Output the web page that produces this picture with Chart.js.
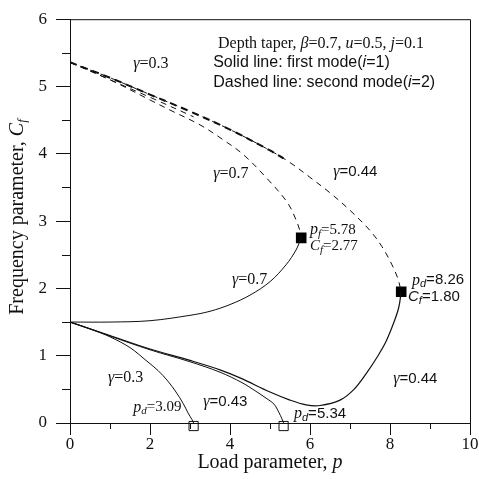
<!DOCTYPE html>
<html>
<head>
<meta charset="utf-8">
<script src="https://cdn.jsdelivr.net/npm/chart.js@4.4.0/dist/chart.umd.min.js"></script>
<style>
  html, body { margin: 0; padding: 0; background: #fff; }
  #wrap { width: 479px; height: 479px; }
</style>
</head>
<body>
<div id="wrap"><canvas id="grafico"></canvas></div>
<script>
// Ejes
const xTicks = [0, 2, 4, 6, 8, 10];
const yTicks = [0, 1, 2, 3, 4, 5, 6];

// Primer modo (linea continua)
const pModo1G03 = [0, 0.5, 1, 1.5, 1.9, 2.2, 2.45, 2.65, 2.83, 2.95, 3.05, 3.09];
const cModo1G03 = [1.5, 1.4, 1.28, 1.12, 0.93, 0.78, 0.62, 0.46, 0.29, 0.15, 0.05, 0];
const pModo1G043 = [0, 1, 2, 3, 3.75, 4.3, 4.6, 4.9, 5.1, 5.22, 5.3, 5.34];
const cModo1G043 = [1.5, 1.292, 1.088, 0.91, 0.755, 0.6, 0.49, 0.37, 0.28, 0.16, 0.06, 0];
const pModo1G044 = [0, 1, 2, 3, 3.75, 4.25, 5, 5.5, 5.9, 6.25, 6.75, 7.1, 7.4, 7.7, 7.9, 8.1, 8.22, 8.28];
const cModo1G044 = [1.5, 1.3, 1.1, 0.93, 0.79, 0.67, 0.46, 0.34, 0.27, 0.26, 0.34, 0.5, 0.73, 1.0, 1.21, 1.5, 1.72, 1.95];
const pModo1G07 = [0, 1, 2, 3, 3.5, 4, 4.5, 5, 5.4, 5.65, 5.78];
const cModo1G07 = [1.5, 1.5, 1.52, 1.6, 1.66, 1.76, 1.9, 2.1, 2.35, 2.57, 2.75];

// Segundo modo (linea discontinua)
const pModo2G03 = [0, 1, 2, 3.09];
const cModo2G03 = [5.36, 5.1, 4.84, 4.55];
const pModo2G043 = [0, 1, 2, 3, 4, 5, 5.34];
const cModo2G043 = [5.36, 5.13, 4.88, 4.63, 4.36, 4.05, 3.93];
const pModo2G044 = [0, 1, 2, 3, 4, 5, 5.5, 6, 6.5, 7, 7.5, 7.8, 8.05, 8.2, 8.28];
const cModo2G044 = [5.36, 5.13, 4.88, 4.63, 4.36, 4.05, 3.87, 3.65, 3.42, 3.16, 2.86, 2.62, 2.35, 2.14, 1.95];
const pModo2G07 = [0, 1, 2, 2.5, 3.25, 3.8, 4.33, 4.93, 5.43, 5.65, 5.75, 5.78];
const cModo2G07 = [5.36, 5.1, 4.8, 4.65, 4.43, 4.22, 3.99, 3.63, 3.28, 3.02, 2.85, 2.75];

// Puntos de flameo (llenos) y divergencia (vacios)
const pFlameo = [5.78, 8.28];
const cFlameo = [2.75, 1.95];
const pDiverg = [3.09, 5.34];
const cDiverg = [-0.045, -0.045];

function puntos(p, c) {
    return p.map((v, i) => ({ x: v, y: c[i] }));
}

function linea(p, c, dash, ancho) {
    return {
        data: puntos(p, c),
        showLine: true,
        borderColor: '#111',
        borderWidth: ancho || 1,
        borderDash: dash ? (ancho > 1 ? [7, 5] : [6, 5]) : [],
        pointRadius: 0,
        tension: 0.35,
        fill: false
    };
}

const SERIF = '"Liberation Serif", "Times New Roman", serif';
const SANS = '"Liberation Sans", Arial, sans-serif';

// Textos: [p, C, tramos]; cada tramo = [texto, fuente, desplazamiento vertical]
function gamma(resto, sans) {
    return [['γ', 'italic 16px ' + SERIF, 0], [resto, sans ? '15px ' + SANS : '16px ' + SERIF, 0]];
}
const textos = [
    [3.7, 5.63, [['Depth taper, ', '16px ' + SERIF, 0], ['β', 'italic 16px ' + SERIF, 0], ['=0.7, ', '16px ' + SERIF, 0],
        ['u', 'italic 16px ' + SERIF, 0], ['=0.5, ', '16px ' + SERIF, 0], ['j', 'italic 16px ' + SERIF, 0], ['=0.1', '16px ' + SERIF, 0]]],
    [3.58, 5.35, [['Solid line: first mode(', '16px ' + SANS, 0], ['i', 'italic 16px ' + SANS, 0], ['=1)', '16px ' + SANS, 0]]],
    [3.58, 5.06, [['Dashed line: second mode(', '16px ' + SANS, 0], ['i', 'italic 16px ' + SANS, 0], ['=2)', '16px ' + SANS, 0]]],
    [1.58, 5.34, gamma('=0.3', false)],
    [3.58, 3.70, gamma('=0.7', false)],
    [6.58, 3.73, gamma('=0.44', true)],
    [6.0, 2.87, [['p', 'italic 16px ' + SERIF, 0], ['f', 'italic 11px ' + SERIF, 4], ['=5.78', '15px ' + SERIF, 0]]],
    [6.0, 2.63, [['C', 'italic 15px ' + SERIF, 0], ['f', 'italic 11px ' + SERIF, 4], ['=2.77', '15px ' + SERIF, 0]]],
    [4.05, 2.13, gamma('=0.7', false)],
    [8.55, 2.12, [['p', 'italic 16px ' + SERIF, 0], ['d', 'italic 11px ' + SANS, 4], ['=8.26', '15px ' + SANS, 0]]],
    [8.45, 1.87, [['C', 'italic 15px ' + SANS, 0], ['f', 'italic 11px ' + SANS, 4], ['=1.80', '15px ' + SANS, 0]]],
    [8.08, 0.66, gamma('=0.44', true)],
    [0.95, 0.67, gamma('=0.3', false)],
    [3.33, 0.32, gamma('=0.43', true)],
    [1.58, 0.23, [['p', 'italic 16px ' + SERIF, 0], ['d', 'italic 11px ' + SERIF, 4], ['=3.09', '15px ' + SERIF, 0]]],
    [5.6, 0.13, [['p', 'italic 16px ' + SERIF, 0], ['d', 'italic 11px ' + SANS, 4], ['=5.34', '15px ' + SANS, 0]]]
];

function dibujarTramos(ctx, x, y, tramos, centrar) {
    let ancho = 0;
    tramos.forEach(t => { ctx.font = t[1]; ancho += ctx.measureText(t[0]).width; });
    let cx = centrar ? x - ancho / 2 : x;
    tramos.forEach(t => {
        ctx.font = t[1];
        ctx.fillText(t[0], cx, y + t[2]);
        cx += ctx.measureText(t[0]).width;
    });
}

const pluginMarco = {
    id: 'marco',
    afterDraw(chart) {
        const ctx = chart.ctx;
        const a = chart.chartArea;
        const sx = chart.scales.x, sy = chart.scales.y;
        ctx.save();
        ctx.strokeStyle = '#111';
        ctx.lineWidth = 1;
        // marco superior y derecho
        ctx.beginPath();
        ctx.moveTo(a.left, a.top + 0.5);
        ctx.lineTo(a.right + 0.5, a.top + 0.5);
        ctx.lineTo(a.right + 0.5, a.bottom);
        ctx.stroke();
        // marcas menores
        ctx.beginPath();
        for (let v = 1; v < 10; v += 2) {
            const px = Math.round(sx.getPixelForValue(v)) + 0.5;
            ctx.moveTo(px, a.bottom);
            ctx.lineTo(px, a.bottom + 6);
        }
        for (let v = 0.5; v < 6; v += 1) {
            const py = Math.round(sy.getPixelForValue(v)) + 0.5;
            ctx.moveTo(a.left, py);
            ctx.lineTo(a.left - 8, py);
        }
        ctx.stroke();
        // textos
        ctx.fillStyle = '#111';
        ctx.textBaseline = 'middle';
        ctx.textAlign = 'left';
        textos.forEach(t => dibujarTramos(ctx, sx.getPixelForValue(t[0]), sy.getPixelForValue(t[1]), t[2], false));
        // titulos de ejes
        dibujarTramos(ctx, (a.left + a.right) / 2, 463,
            [['Load parameter, ', '20px ' + SERIF, 0], ['p', 'italic 20px ' + SERIF, 0]], true);
        ctx.translate(18, 217);
        ctx.rotate(-Math.PI / 2);
        dibujarTramos(ctx, 0, 0,
            [['Frequency parameter, ', '20px ' + SERIF, 0], ['C', 'italic 20px ' + SERIF, 0], ['f', 'italic 13px ' + SERIF, 5]], true);
        ctx.restore();
    }
};

const datasets = [
    linea(pModo1G03, cModo1G03, false, 1),
    linea(pModo1G043, cModo1G043, false, 1),
    linea(pModo1G044, cModo1G044, false, 1.2),
    linea(pModo1G07, cModo1G07, false, 1),
    linea(pModo2G03, cModo2G03, true, 1),
    linea(pModo2G044, cModo2G044, true, 1),
    linea(pModo2G043, cModo2G043, true, 2),
    linea(pModo2G07, cModo2G07, true, 1),
    {
        data: puntos(pFlameo, cFlameo),
        pointStyle: 'rect',
        pointRadius: 7.5,
        backgroundColor: '#000',
        borderColor: '#000',
        borderWidth: 0,
        showLine: false
    },
    {
        data: puntos(pDiverg, cDiverg),
        pointStyle: 'rect',
        pointRadius: 6.5,
        backgroundColor: 'rgba(255,255,255,0)',
        borderColor: '#111',
        borderWidth: 1,
        showLine: false,
        clip: false
    }
];

new Chart(document.getElementById('grafico'), {
    type: 'scatter',
    data: { datasets: datasets },
    options: {
        responsive: true,
        maintainAspectRatio: false,
        animation: false,
        events: [],
        layout: { padding: { top: 13, right: 9, left: 0, bottom: 0 } },
        plugins: { legend: { display: false }, tooltip: { enabled: false } },
        scales: {
            x: {
                type: 'linear',
                min: 0, max: 10,
                afterFit(s) { s.height = 56; },
                afterBuildTicks(s) { s.ticks = xTicks.map(v => ({ value: v })); },
                ticks: { color: '#111', font: { family: SERIF, size: 17 }, padding: -1, maxRotation: 0 },
                grid: { drawOnChartArea: false, tickLength: 12, color: '#111', tickWidth: 1 },
                border: { color: '#111', width: 1 }
            },
            y: {
                type: 'linear',
                min: 0, max: 6,
                afterFit(s) { s.width = 70; },
                afterBuildTicks(s) { s.ticks = yTicks.map(v => ({ value: v })); },
                ticks: { color: '#111', font: { family: SERIF, size: 17 }, padding: 9 },
                grid: { drawOnChartArea: false, tickLength: 14, color: '#111', tickWidth: 1 },
                border: { color: '#111', width: 1 }
            }
        }
    },
    plugins: [pluginMarco]
});
</script>
</body>
</html>
